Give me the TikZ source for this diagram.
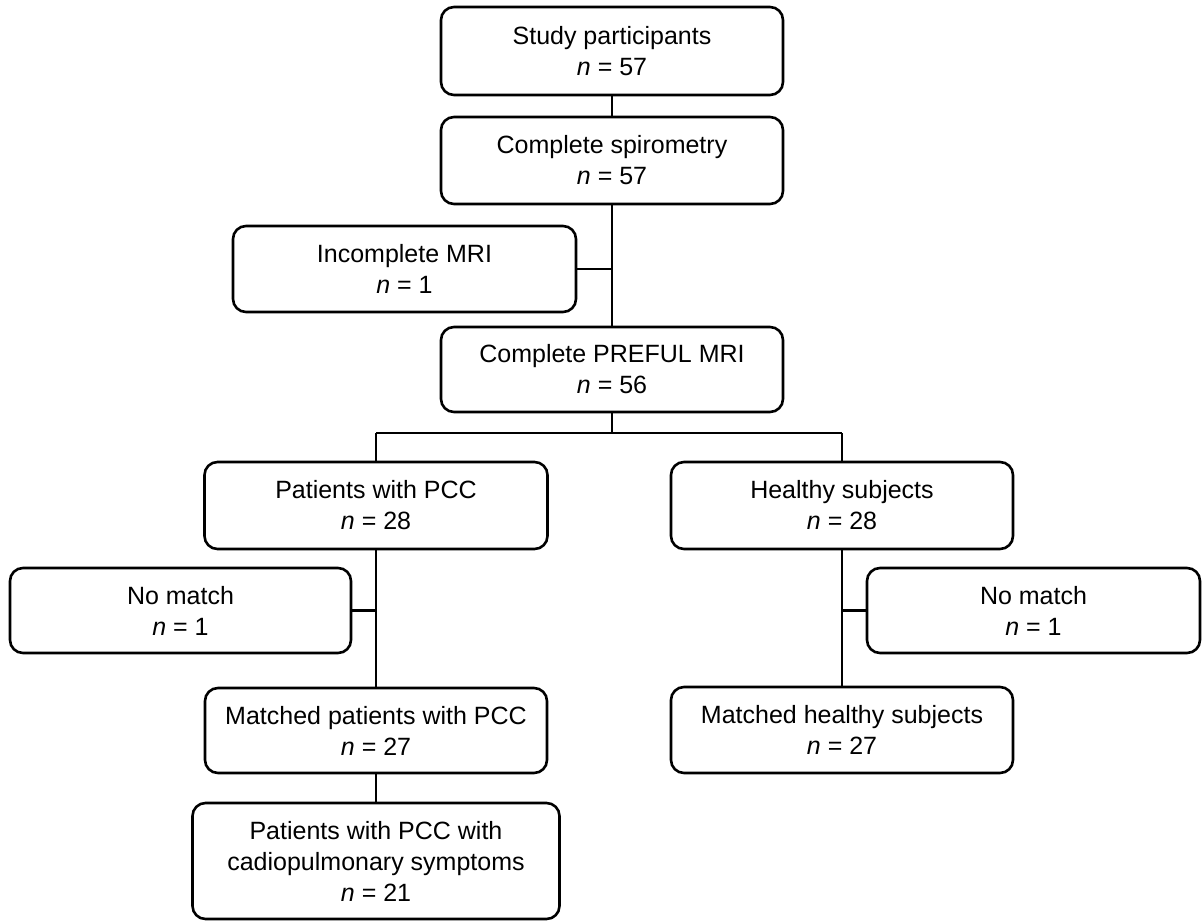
\documentclass[tikz,border=0pt]{standalone}
\usepackage{fontspec}
\setmainfont{Liberation Sans}
\begin{document}
\begin{tikzpicture}[x=1pt,y=-1pt,
  box/.style={draw=black, line width=2.6pt, rounded corners=13pt, inner sep=0pt,
    align=center, font=\fontsize{25}{31}\selectfont, fill=white},
  conn/.style={draw=black, line width=2.6pt}]
\useasboundingbox[fill=white] (0,0) rectangle (1204,921);
\node[box, minimum width=342pt, minimum height=88pt] (b1) at (612,51) {Study participants\\\textit{n} = 57};
\node[box, minimum width=342pt, minimum height=87pt] (b2) at (612,160.5) {Complete spirometry\\\textit{n} = 57};
\node[box, minimum width=343pt, minimum height=86pt] (inc) at (404.5,269) {Incomplete MRI\\\textit{n} = 1};
\node[box, minimum width=342pt, minimum height=85pt] (pre) at (612,369.5) {Complete PREFUL MRI\\\textit{n} = 56};
\node[box, minimum width=343pt, minimum height=87pt] (pcc) at (376,505.5) {Patients with PCC\\\textit{n} = 28};
\node[box, minimum width=342pt, minimum height=87pt] (hs) at (842,505.5) {Healthy subjects\\\textit{n} = 28};
\node[box, minimum width=341pt, minimum height=85pt] (nm1) at (180.5,610.5) {No match\\\textit{n} = 1};
\node[box, minimum width=333pt, minimum height=85pt] (nm2) at (1033.5,610.5) {No match\\\textit{n} = 1};
\node[box, minimum width=342pt, minimum height=85pt] (mp) at (376,730.5) {Matched patients with PCC\\\textit{n} = 27};
\node[box, minimum width=342pt, minimum height=86pt] (mh) at (842,730) {Matched healthy subjects\\\textit{n} = 27};
\node[box, minimum width=367pt, minimum height=116pt] (cad) at (376,861) {Patients with PCC with\\cadiopulmonary symptoms\\\textit{n} = 21};
\coordinate (br) at (612,433);
\draw[conn] (b1.south) -- (b2.north);
\draw[conn] (b2.south) -- (pre.north);
\draw[conn] (inc.east) -- (inc.east -| b2.south);
\draw[conn] (pre.south) -- (br);
\draw[conn] (br -| pcc.north) -- (br -| hs.north);
\draw[conn] (br -| pcc.north) -- (pcc.north);
\draw[conn] (br -| hs.north) -- (hs.north);
\draw[conn] (pcc.south) -- (mp.north);
\draw[conn] (nm1.east) -- (nm1.east -| pcc.south);
\draw[conn] (hs.south) -- (mh.north);
\draw[conn] (nm2.west) -- (nm2.west -| hs.south);
\draw[conn] (mp.south) -- (cad.north);
\end{tikzpicture}
\end{document}
